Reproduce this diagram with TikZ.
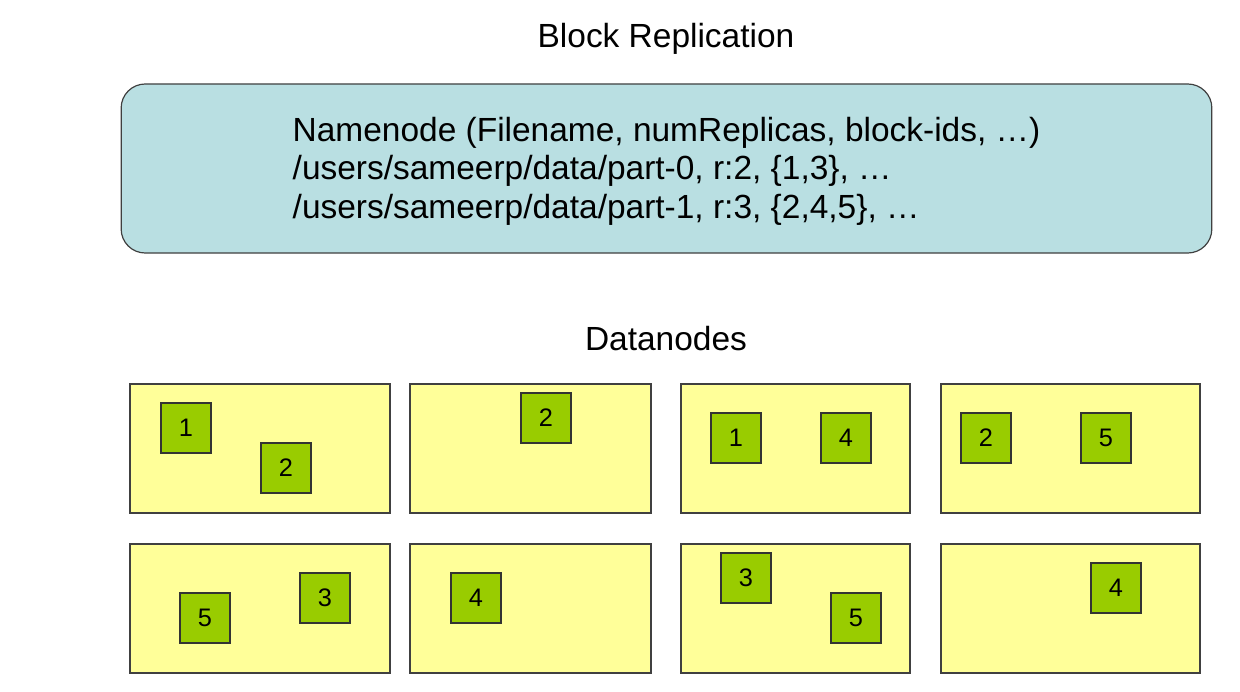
\documentclass[tikz,border=0pt]{standalone}
\usepackage{fontspec}
\setmainfont{Liberation Sans}
\usepackage{xcolor}
\usepackage{tikz}
\usetikzlibrary{positioning}
\definecolor{nnfill}{RGB}{185,223,226}
\definecolor{dnfill}{RGB}{255,255,153}
\definecolor{blkfill}{RGB}{153,204,0}
\definecolor{edge}{RGB}{64,64,64}
\tikzset{
    namebox/.style={rectangle, rounded corners=18pt, draw=edge, line width=0.9pt, fill=nnfill, minimum width=818pt, minimum height=126.75pt},
    datanode/.style={rectangle, draw=edge, line width=0.9pt, fill=dnfill, minimum height=96.75pt},
    blk/.style={rectangle, draw=edge!80!black, line width=0.9pt, fill=blkfill, minimum size=37.5pt, inner sep=0pt, font=\fontsize{19}{22}\selectfont},
    heading/.style={font=\fontsize{25.1}{28.8}\selectfont}
}

\begin{document}
\begin{tikzpicture}[x=0.75pt, y=-0.75pt]
    \useasboundingbox (0,0) rectangle (1240,692);
    \node (title) [heading] at (666,39) {Block Replication};
    \node (nn) [namebox] at (666.5,168.5) {};
    \node (nntext) [heading, anchor=west, align=left] at (288,171) {Namenode (Filename, numReplicas, block-ids, …)\\/users/sameerp/data/part-0, r:2, \{1,3\}, …\\/users/sameerp/data/part-1, r:3, \{2,4,5\}, …};
    \node (dtitle) [heading] at (666,339) {Datanodes};

    % first row
    \node (dn1) [datanode, minimum width=195pt] at (260,448.5) {};
    \node (dn2) [datanode, minimum width=180.75pt] at (530.5,448.5) {};
    \node (dn3) [datanode, minimum width=171.75pt] at (795.5,448.5) {};
    \node (dn4) [datanode, minimum width=194.25pt] at (1070.5,448.5) {};
    % second row
    \node (dn5) [datanode, minimum width=195pt] at (260,608.5) {};
    \node (dn6) [datanode, minimum width=180.75pt] at (530.5,608.5) {};
    \node (dn7) [datanode, minimum width=171.75pt] at (795.5,608.5) {};
    \node (dn8) [datanode, minimum width=194.25pt] at (1070.5,608.5) {};

    % blocks
    \node (b1a) [blk] at (186,428) {1};
    \node (b1b) [blk] at (286,468) {2};
    \node (b2a) [blk] at (546,418) {2};
    \node (b3a) [blk] at (736,438) {1};
    \node (b3b) [blk] at (846,438) {4};
    \node (b4a) [blk] at (986,438) {2};
    \node (b4b) [blk] at (1106,438) {5};
    \node (b5a) [blk] at (205,618) {5};
    \node (b5b) [blk] at (325,598) {3};
    \node (b6a) [blk] at (476,598) {4};
    \node (b7a) [blk] at (746,578) {3};
    \node (b7b) [blk] at (856,618) {5};
    \node (b8a) [blk] at (1116,588) {4};
\end{tikzpicture}
\end{document}
